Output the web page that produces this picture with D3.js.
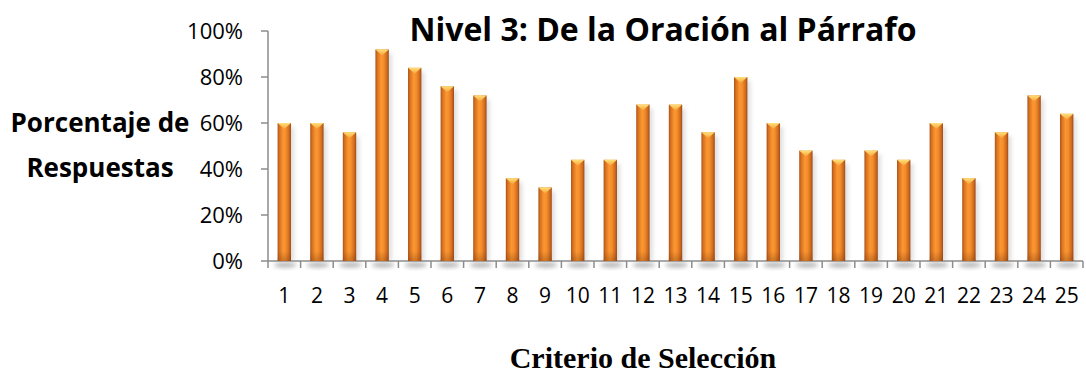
<!DOCTYPE html>
<html>
<head>
<meta charset="utf-8">
<script src="https://cdn.jsdelivr.net/npm/d3@7"></script>
<style>
  html, body { margin: 0; padding: 0; background: #fff; }
  svg { display: block; }
</style>
</head>
<body>
<svg id="chart" width="1086" height="375"></svg>
<script>
// Categories (selection criteria 1..25) and share of answers per criterion
const categories = d3.range(1, 26).map(String);
const values = [0.60, 0.60, 0.56, 0.92, 0.84, 0.76, 0.72, 0.36, 0.32, 0.44,
                0.44, 0.68, 0.68, 0.56, 0.80, 0.60, 0.48, 0.44, 0.48, 0.44,
                0.60, 0.36, 0.56, 0.72, 0.64];
const yTicks = [0, 0.2, 0.4, 0.6, 0.8, 1.0];

const titleText = "Nivel 3: De la Oración al Párrafo";
const yTitleLines = ["Porcentaje de", "Respuestas"];
const xTitleText = "Criterio de Selección";

const svg = d3.select("#chart");
const plotLeft = 268, plotRight = 1083, plotTop = 31, plotBottom = 261;

const x = d3.scaleBand().domain(categories).range([plotLeft, plotRight]).paddingInner(0.59).paddingOuter(0.295);
const xEdge = d3.scaleBand().domain(categories).range([plotLeft, plotRight]).padding(0);
const y = d3.scaleLinear().domain([0, 1]).range([plotBottom, plotTop]);

const defs = svg.append("defs");

// cylinder-like shading across each bar
const g1 = defs.append("linearGradient").attr("id", "barFill").attr("x1", 0).attr("x2", 1).attr("y1", 0).attr("y2", 0);
[[0, "#a9521a"], [0.14, "#d7711f"], [0.42, "#fb9732"], [0.62, "#f48e2c"], [0.86, "#cf6a1e"], [1, "#9c4a17"]]
  .forEach(([o, c]) => g1.append("stop").attr("offset", o).attr("stop-color", c));

// darker foot near the base
const gFoot = defs.append("linearGradient").attr("id", "barFoot").attr("x1", 0).attr("x2", 0).attr("y1", 0).attr("y2", 1);
gFoot.append("stop").attr("offset", 0).attr("stop-color", "#7a3a10").attr("stop-opacity", 0);
gFoot.append("stop").attr("offset", 1).attr("stop-color", "#7a3a10").attr("stop-opacity", 0.35);

// bright top cap
const gCap = defs.append("linearGradient").attr("id", "capFill").attr("x1", 0).attr("x2", 0).attr("y1", 0).attr("y2", 1);
gCap.append("stop").attr("offset", 0).attr("stop-color", "#ffe07a");
gCap.append("stop").attr("offset", 1).attr("stop-color", "#f9a238");

const blur = defs.append("filter").attr("id", "soft").attr("x", "-50%").attr("y", "-50%").attr("width", "200%").attr("height", "200%");
blur.append("feGaussianBlur").attr("stdDeviation", 2);

const grey = "#8c8c8c";

// shadows under and beside bars
const shadows = svg.append("g");
categories.forEach((c, i) => {
  const cx = x(c) + x.bandwidth() / 2;
  shadows.append("ellipse")
    .attr("cx", cx + 1).attr("cy", plotBottom + 4)
    .attr("rx", x.bandwidth() * 0.85).attr("ry", 2.6)
    .attr("fill", "#9a9a9a").attr("opacity", 0.75).attr("filter", "url(#soft)");
  shadows.append("rect")
    .attr("x", x(c) + 3).attr("y", y(values[i]) + 4)
    .attr("width", x.bandwidth()).attr("height", plotBottom - y(values[i]) - 4)
    .attr("fill", "#bdbdbd").attr("opacity", 0.5).attr("filter", "url(#soft)");
});

// axes
const axisG = svg.append("g");
axisG.append("line").attr("x1", plotLeft).attr("x2", plotLeft).attr("y1", y(1)).attr("y2", plotBottom)
  .attr("stroke", grey).attr("stroke-width", 1.5);
axisG.selectAll(".yt").data(yTicks).join("line")
  .attr("x1", plotLeft - 7).attr("x2", plotLeft).attr("y1", d => y(d)).attr("y2", d => y(d))
  .attr("stroke", grey).attr("stroke-width", 1.5);

// bars
const bars = svg.append("g");
categories.forEach((c, i) => {
  const bx = x(c), bw = x.bandwidth(), by = y(values[i]);
  bars.append("rect").attr("x", bx).attr("y", by).attr("width", bw).attr("height", plotBottom - by)
    .attr("fill", "url(#barFill)");
  bars.append("rect").attr("x", bx).attr("y", plotBottom - 10).attr("width", bw).attr("height", 10)
    .attr("fill", "url(#barFoot)");
  bars.append("path")
    .attr("d", `M${bx},${by} L${bx + bw},${by} L${bx + bw / 2},${by + 6} Z`)
    .attr("fill", "url(#capFill)");
});

axisG.append("line").attr("x1", plotLeft).attr("x2", plotRight).attr("y1", plotBottom).attr("y2", plotBottom)
  .attr("stroke", grey).attr("stroke-width", 1.5);
const edges = categories.map(c => xEdge(c)).concat([plotRight]);
axisG.selectAll(".xt").data(edges).join("line")
  .attr("x1", d => d).attr("x2", d => d).attr("y1", plotBottom).attr("y2", plotBottom + 7)
  .attr("stroke", grey).attr("stroke-width", 1.5);

// tick labels
const sans = "'Open Sans', 'Noto Sans', sans-serif";
svg.append("g").selectAll("text").data(yTicks).join("text")
  .attr("x", plotLeft - 25).attr("y", d => y(d) + 7.5)
  .attr("text-anchor", "end").attr("font-family", sans).attr("font-size", 22).attr("fill", "#000")
  .text(d => d3.format(".0%")(d));

svg.append("g").selectAll("text").data(categories).join("text")
  .attr("x", d => x(d) + x.bandwidth() / 2).attr("y", 303)
  .attr("text-anchor", "middle").attr("font-family", sans).attr("font-size", 21).attr("fill", "#000")
  .text(d => d);

// titles
svg.append("text").attr("x", 663).attr("y", 41).attr("text-anchor", "middle")
  .attr("font-family", sans).attr("font-weight", 700).attr("font-size", 32).attr("fill", "#000")
  .text(titleText);

svg.append("g").selectAll("text").data(yTitleLines).join("text")
  .attr("x", 100).attr("y", (d, i) => 132 + i * 45).attr("text-anchor", "middle")
  .attr("font-family", sans).attr("font-weight", 700).attr("font-size", 26).attr("fill", "#000")
  .text(d => d);

svg.append("text").attr("x", 643).attr("y", 368).attr("text-anchor", "middle")
  .attr("font-family", "'Liberation Serif', 'Times New Roman', serif").attr("font-weight", 700)
  .attr("font-size", 30).attr("fill", "#000")
  .text(xTitleText);
</script>
</body>
</html>
